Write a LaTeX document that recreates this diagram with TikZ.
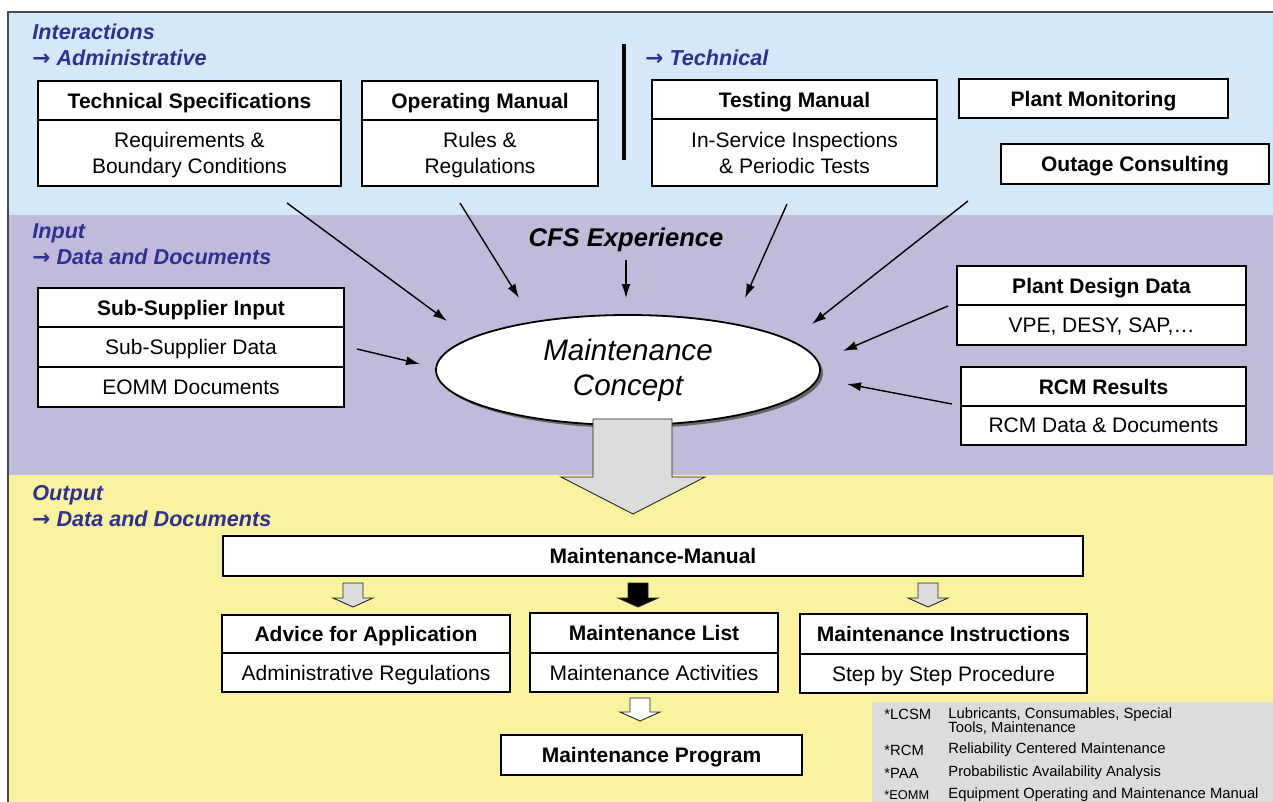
\documentclass[tikz,border=0pt]{standalone}
\usepackage{fontspec}
\setmainfont{Liberation Sans}
\newfontfamily\MCarrowfont{DejaVu Sans}
\usepackage{tikz}
\usetikzlibrary{positioning,arrows.meta,calc,shapes.geometric,shadows}
\definecolor{MCblue}{HTML}{D5E8F8}
\definecolor{MCpurple}{HTML}{C0BBDB}
\definecolor{MCyellow}{HTML}{F9F29F}
\definecolor{MCnavy}{HTML}{2E3192}
\definecolor{MCgray}{HTML}{DCDCDC}
\definecolor{MCframe}{HTML}{4A4A4A}
\newcommand{\unitpx}{0.5pt}
\newcommand{\toarrow}{{\MCarrowfont\upshape\bfseries →}}
\tikzset{
  headbox/.style={draw=black, line width=0.85pt, fill=white, align=center, inner sep=0pt, outer sep=0pt, minimum height=39*\unitpx, text depth=0pt, font=\fontsize{10.5}{12.6}\selectfont\bfseries},
  textbox/.style={draw=black, line width=0.85pt, fill=white, align=center, inner sep=0pt, outer sep=0pt, minimum height=40*\unitpx, text depth=0pt, font=\fontsize{10.5}{13}\selectfont},
  sectlabel/.style={anchor=base west, inner sep=0pt, text=MCnavy, font=\fontsize{10.8}{13}\selectfont\bfseries\itshape},
  thinarr/.style={-{Latex[length=7pt,width=4.5pt]}, line width=0.7pt, draw=black},
  blockarr/.style={draw=black!85, line width=0.45pt},
  legabbr/.style={anchor=west, inner sep=0pt, font=\fontsize{7.4}{7.2}\selectfont},
  legtext/.style={anchor=west, inner sep=0pt, align=left, font=\fontsize{7.4}{7.2}\selectfont}
}

\begin{document}
\begin{tikzpicture}[x=\unitpx, y=-\unitpx]
  \useasboundingbox (0,0) rectangle (1273,802);
  % background bands
  \fill[MCblue] (8,12) rectangle (1273,215);
  \fill[MCpurple] (8,215) rectangle (1273,475);
  \fill[MCyellow] (8,475) rectangle (1273,802);
  \fill[MCgray] (872,702) rectangle (1273,802);
  \draw[MCframe, line width=0.75pt] (8,802) -- (8,12) -- (1273,12);

  % section labels
  \node[sectlabel] (interlbl) at (32,40) {Interactions};
  \node[sectlabel] (adminlbl) at (32,66) {\toarrow{} Administrative};
  \node[sectlabel] (techlbl) at (645,66) {\toarrow{} Technical};
  \node[sectlabel] (inlbl) at (32,239) {Input};
  \node[sectlabel] (indatalbl) at (32,264) {\toarrow{} Data and Documents};
  \node[sectlabel] (outlbl) at (32,500) {Output};
  \node[sectlabel] (outdatalbl) at (32,526) {\toarrow{} Data and Documents};
  \draw[line width=2pt] (624,44) -- (624,160);

  % interactions
  \node[headbox, minimum width=303*\unitpx] (techspec) at (189.5,100.5) {Technical Specifications};
  \node[textbox, minimum width=303*\unitpx, minimum height=66*\unitpx, below=0pt of techspec] (techspecsub) {Requirements \&\\Boundary Conditions};
  \node[headbox, minimum width=236*\unitpx] (opman) at (480,100.5) {Operating Manual};
  \node[textbox, minimum width=236*\unitpx, minimum height=66*\unitpx, below=0pt of opman] (opmansub) {Rules \&\\Regulations};
  \node[headbox, minimum width=285*\unitpx] (testman) at (794.5,99.5) {Testing Manual};
  \node[textbox, minimum width=285*\unitpx, minimum height=67*\unitpx, below=0pt of testman] (testmansub) {In-Service Inspections\\\& Periodic Tests};
  \node[headbox, minimum width=269*\unitpx] (plantmon) at (1093.5,98.5) {Plant Monitoring};
  \node[headbox, minimum width=268*\unitpx, minimum height=40*\unitpx] (outage) at (1135,164) {Outage Consulting};

  % input
  \node[font=\fontsize{12.8}{15}\selectfont\bfseries\itshape, inner sep=0pt] (cfs) at (626,240) {CFS Experience};
  \node[headbox, minimum width=306*\unitpx] (subsup) at (191,307.5) {Sub-Supplier Input};
  \node[textbox, minimum width=306*\unitpx, below=0pt of subsup] (subsupdata) {Sub-Supplier Data};
  \node[textbox, minimum width=306*\unitpx, below=0pt of subsupdata] (subsupeomm) {EOMM Documents};
  \node[headbox, minimum width=289*\unitpx] (plantdes) at (1101.5,285.5) {Plant Design Data};
  \node[textbox, minimum width=289*\unitpx, below=0pt of plantdes] (plantdessub) {VPE, DESY, SAP,\dots};
  \node[headbox, minimum width=285*\unitpx] (rcm) at (1103.5,386.5) {RCM Results};
  \node[textbox, minimum width=285*\unitpx, minimum height=39*\unitpx, below=0pt of rcm] (rcmsub) {RCM Data \& Documents};

  \node[ellipse, draw=black, line width=0.9pt, fill=white, minimum width=384*\unitpx, minimum height=110*\unitpx, inner sep=0pt,
        drop shadow={shadow xshift=1.5pt, shadow yshift=-1.5pt, fill=black!60, opacity=1},
        align=center, font=\fontsize{14.8}{17.5}\selectfont\itshape] (concept) at (628,370) {Maintenance\\Concept};

  \draw[thinarr] ($(techspecsub.south)+(97.5,17)$) -- ($(concept.center)+(-181,-49)$);
  \draw[thinarr] ($(opmansub.south)+(-20,17)$) -- ($(concept.center)+(-109,-72)$);
  \draw[thinarr] ($(cfs.south)+(0,8)$) -- ($(concept.center)+(-2,-72)$);
  \draw[thinarr] ($(testmansub.south)+(-7.5,18)$) -- ($(concept.center)+(117,-72)$);
  \draw[thinarr] ($(outage.south)+(-167,17)$) -- ($(concept.center)+(184,-46)$);
  \draw[thinarr] ($(plantdessub.west)+(-9,-19)$) -- ($(concept.center)+(215,-19)$);
  \draw[thinarr] ($(rcmsub.west)+(-9,-21.5)$) -- ($(concept.center)+(219,14)$);
  \draw[thinarr] ($(subsupdata.east)+(13,2)$) -- ($(concept.center)+(-208,-6)$);

  % big block arrow
  \draw[blockarr, fill=MCgray] (593,419) -- (672,419) -- (672,477) -- (705,477) -- (633,514) -- (561,477) -- (593,477) -- cycle;

  % output
  \node[headbox, minimum width=860*\unitpx, minimum height=40*\unitpx] (mmanual) at (653,556) {Maintenance-Manual};
  \foreach \ax/\acol in {353/MCgray, 638/black, 928/MCgray}
    \draw[blockarr, fill=\acol] (\ax-10,583) -- (\ax+10,583) -- (\ax+10,598) -- (\ax+20,598) -- (\ax,607) -- (\ax-20,598) -- (\ax-10,598) -- cycle;
  \node[headbox, minimum width=288*\unitpx, minimum height=38*\unitpx] (advice) at (366,634) {Advice for Application};
  \node[textbox, minimum width=288*\unitpx, minimum height=39*\unitpx, below=0pt of advice] (advicesub) {Administrative Regulations};
  \node[headbox, minimum width=248*\unitpx, minimum height=40*\unitpx] (mlist) at (654,633) {Maintenance List};
  \node[textbox, minimum width=248*\unitpx, minimum height=39*\unitpx, below=0pt of mlist] (mlistsub) {Maintenance Activities};
  \node[headbox, minimum width=287*\unitpx, minimum height=40*\unitpx] (minstr) at (943.5,634) {Maintenance Instructions};
  \node[textbox, minimum width=287*\unitpx, minimum height=39*\unitpx, below=0pt of minstr] (minstrsub) {Step by Step Procedure};
  \draw[blockarr, fill=white] (630,698) -- (650,698) -- (650,712) -- (660,712) -- (640,721) -- (620,712) -- (630,712) -- cycle;
  \node[headbox, minimum width=301*\unitpx, minimum height=40*\unitpx] (mprog) at (651.5,755) {Maintenance Program};

  % legend
  \node[legabbr] (lcsm) at (884,714) {*LCSM};
  \node[legtext] (lcsmtext) at (948,721) {Lubricants, Consumables, Special\\ Tools, Maintenance};
  \node[legabbr] (rcmabbr) at (884,750) {*RCM};
  \node[legtext] (rcmtext) at (948,750) {Reliability Centered Maintenance};
  \node[legabbr] (paa) at (884,773) {*PAA};
  \node[legtext] (paatext) at (948,773) {Probabilistic Availability Analysis};
  \node[legabbr, font=\fontsize{6.4}{7}\selectfont] (eomm) at (884,795) {*EOMM};
  \node[legtext] (eommtext) at (948,795) {Equipment Operating and Maintenance Manual};
\end{tikzpicture}
\end{document}
